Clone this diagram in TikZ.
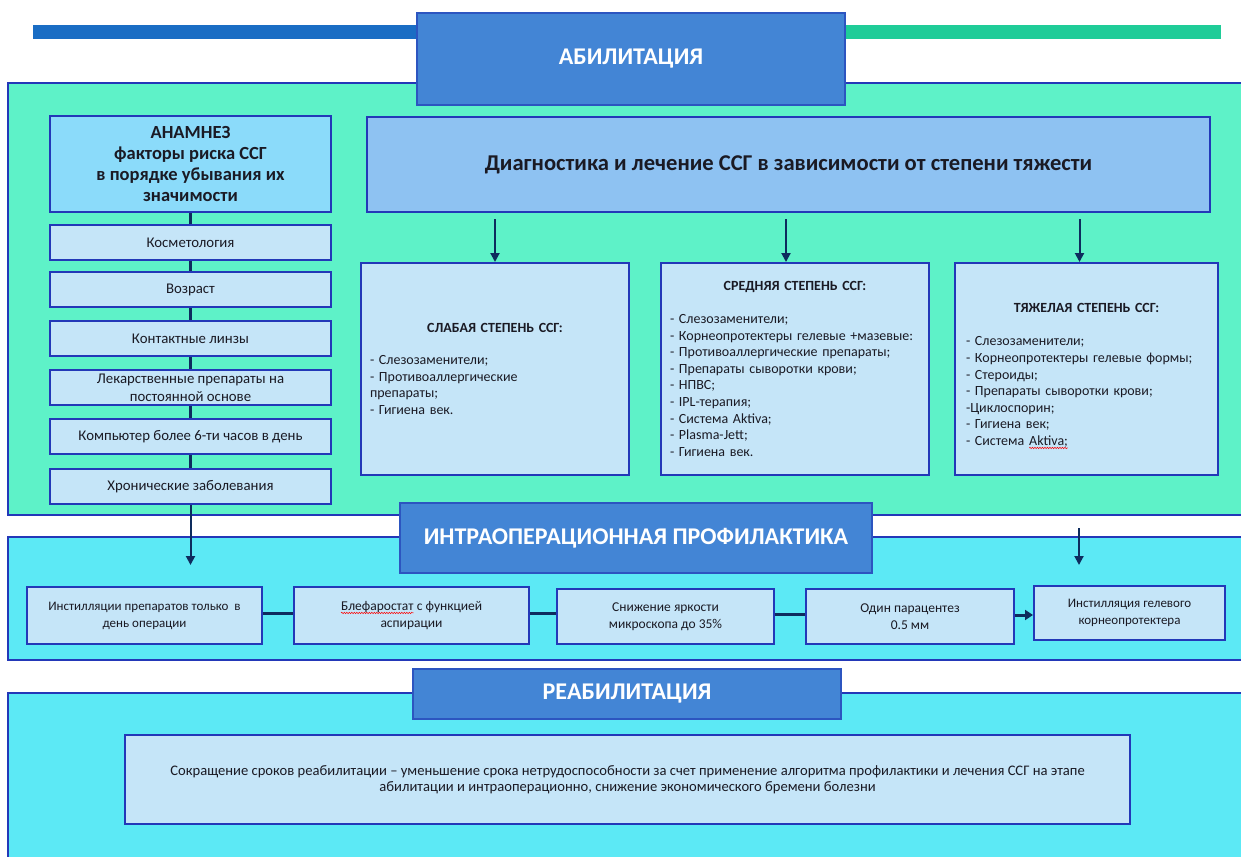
\documentclass[tikz,border=0pt]{standalone}
\usepackage{fontspec}
\setmainfont{Carlito}
\usetikzlibrary{arrows.meta,decorations.pathmorphing}
\definecolor{mint}{HTML}{5EF2C8}
\definecolor{cyanreg}{HTML}{5CE9F5}
\definecolor{hdr}{HTML}{4385D5}
\definecolor{hdrb}{HTML}{2C55C0}
\definecolor{diagc}{HTML}{8EC2F2}
\definecolor{anam}{HTML}{8BDBFA}
\definecolor{lightb}{HTML}{C5E5F8}
\definecolor{bord}{HTML}{2338B8}
\definecolor{navy}{HTML}{0E2C5E}
\definecolor{barblue}{HTML}{1A6DC4}
\definecolor{bargreen}{HTML}{1FCC98}
\definecolor{txt}{HTML}{1A1A24}
\newcommand{\spellmark}[1]{\tikz[baseline=(sw.base)]{\node[inner sep=0pt,outer sep=0pt,draw=none,fill=none,minimum width=0pt,minimum height=0pt,text=txt] (sw) {#1};
  \draw[red, line width=0.5pt, decorate, decoration={snake,amplitude=0.7pt,segment length=2.5pt}] ([yshift=-2.5pt]sw.base west) -- ([yshift=-2.5pt]sw.base east);}}
\begin{document}
\begin{tikzpicture}[x=1pt,y=-1pt,
  region/.style={draw=bord, line width=1.5pt, inner sep=0pt},
  bar/.style={inner sep=0pt, draw=none},
  hdrbox/.style={draw=hdrb, line width=1.5pt, fill=hdr, inner sep=0pt, text=white, align=center, font=\bfseries\fontsize{24}{28}\selectfont},
  lbox/.style={draw=bord, line width=2pt, fill=lightb, inner sep=0pt, align=center, text=txt, font=\fontsize{14.8}{18}\selectfont},
  sevbox/.style={draw=bord, line width=2pt, fill=lightb, inner sep=0pt},
  sevtext/.style={text width=250pt, align=left, inner sep=0pt, text=txt, font=\fontsize{14}{16.6}\selectfont},
  ibox/.style={draw=bord, line width=2pt, fill=lightb, inner sep=0pt, align=center, text=txt, font=\fontsize{13.5}{17}\selectfont},
  link/.style={draw=navy, line width=3pt},
  arr/.style={draw=navy, line width=2pt, -{Triangle[width=9pt,length=9pt]}}
]
\useasboundingbox (0,0) rectangle (1241,856);
\fill[white] (0,0) rectangle (1241,856);

% top bars
\node[bar, fill=barblue, minimum width=387pt, minimum height=14pt] (bblue) at (226.5,32) {};
\node[bar, fill=bargreen, minimum width=377pt, minimum height=14pt] (bgreen) at (1032.5,32) {};

% regions
\node[region, fill=mint, minimum width=1242pt, minimum height=432pt] (abreg) at (629,299) {};
\node[region, fill=cyanreg, minimum width=1242pt, minimum height=123pt] (intrareg) at (629,598.5) {};
\node[region, fill=cyanreg, minimum width=1242pt, minimum height=177pt] (reabreg) at (629,781.5) {};

% abilitation header
\node[hdrbox, minimum width=428pt, minimum height=92pt] (abhdr) at (631,59) {АБИЛИТАЦИЯ};

% left column connector (behind boxes)
\draw[link] (190.5,212) -- (190.5,469);

% anamnesis
\node[draw=bord, line width=2pt, fill=anam, inner sep=0pt, minimum width=281pt, minimum height=96pt, align=center, text=txt, font=\bfseries\fontsize{18.5}{21.3}\selectfont] (anam) at (190.5,164)
  {АНАМНЕЗ\\факторы риска ССГ\\в порядке убывания их\\значимости};

\node[lbox, minimum width=281pt, minimum height=35pt] (k1) at (190.5,242.5) {Косметология};
\node[lbox, minimum width=281pt, minimum height=35pt] (k2) at (190.5,289.5) {Возраст};
\node[lbox, minimum width=281pt, minimum height=35pt] (k3) at (190.5,338.5) {Контактные линзы};
\node[lbox, minimum width=281pt, minimum height=35pt] (k4) at (190.5,387.5) {Лекарственные препараты на\\постоянной основе};
\node[lbox, minimum width=281pt, minimum height=35pt] (k5) at (190.5,436.5) {Компьютер более 6-ти часов в день};
\node[lbox, minimum width=281pt, minimum height=35pt] (k6) at (190.5,486.5) {Хронические заболевания};

% diagnosis header
\node[draw=bord, line width=2pt, fill=diagc, inner sep=0pt, minimum width=843pt, minimum height=95pt, text=txt, font=\bfseries\fontsize{22.6}{26}\selectfont] (diag) at (788.5,164.5)
  {Диагностика и лечение ССГ в зависимости от степени тяжести};

% severity boxes
\node[sevbox, minimum width=268pt, minimum height=212pt] (slab) at (495,369) {};
\node[sevbox, minimum width=268pt, minimum height=212pt] (sred) at (795,369) {};
\node[sevbox, minimum width=263pt, minimum height=212pt] (tyazh) at (1086.5,369) {};

\node[sevtext] (slabT) at (slab.center)
 {\makebox[\linewidth]{\bfseries СЛАБАЯ СТЕПЕНЬ ССГ:}\\[15pt]
  - Слезозаменители;\\- Противоаллергические\\препараты;\\- Гигиена век.};
\node[sevtext] (sredT) at (sred.center)
 {\makebox[\linewidth]{\bfseries СРЕДНЯЯ СТЕПЕНЬ ССГ:}\\[16pt]
  - Слезозаменители;\\- Корнеопротектеры гелевые +мазевые:\\- Противоаллергические препараты;\\- Препараты сыворотки крови;\\- НПВС;\\- IPL-терапия;\\- Система Aktiva;\\- Plasma-Jett;\\- Гигиена век.};
\node[sevtext, text width=241pt] (tyazhT) at ([yshift=-7pt]tyazh.center)
 {\makebox[\linewidth]{\bfseries ТЯЖЕЛАЯ СТЕПЕНЬ ССГ:}\\[17pt]
  - Слезозаменители;\\- Корнеопротектеры гелевые формы;\\- Стероиды;\\- Препараты сыворотки крови;\\-Циклоспорин;\\- Гигиена век;\\- Система \spellmark{Aktiva;}};

\draw[arr] ([yshift=-6pt]diag.south -| slab.north) -- (slab.north);
\draw[arr] ([xshift=-9pt,yshift=-6pt]diag.south -| sred.north) -- ([xshift=-9pt]sred.north);
\draw[arr] ([xshift=-7pt,yshift=-6pt]diag.south -| tyazh.north) -- ([xshift=-7pt]tyazh.north);

% intraoperative
\node[hdrbox, minimum width=472pt, minimum height=70pt] (intrahdr) at (636,538) {ИНТРАОПЕРАЦИОННАЯ ПРОФИЛАКТИКА};

\node[ibox, minimum width=235pt, minimum height=57pt, font=\fontsize{13}{17}\selectfont] (i1) at (144.5,615.5) {Инстилляции препаратов только \ в\\день операции};
\node[ibox, minimum width=235pt, minimum height=57pt] (i2) at (411.5,615.5) {\spellmark{Блефаростат} с функцией\\аспирации};
\node[ibox, minimum width=217pt, minimum height=55pt] (i3) at (665.5,616.5) {Снижение яркости\\микроскопа до 35\%};
\node[ibox, minimum width=208pt, minimum height=55pt] (i4) at (910,616.5) {Один парацентез\\0.5 мм};
\node[ibox, minimum width=191pt, minimum height=54pt, font=\fontsize{13}{17}\selectfont] (i5) at (1129.5,613) {Инстилляция гелевого\\корнеопротектера};

\draw[link] ([yshift=2pt]i1.east) -- ([yshift=2pt]i1.east -| i2.west);
\draw[link] ([yshift=2pt]i2.east) -- ([yshift=2pt]i2.east -| i3.west);
\draw[link] ([yshift=2pt]i3.east) -- ([yshift=2pt]i3.east -| i4.west);
\draw[arr, line width=3pt, -{Triangle[width=10pt,length=8pt]}] ([yshift=1.5pt]i4.east) -- ([yshift=1.5pt]i4.east -| i5.west);

\coordinate (lefttip) at (190.5,565);
\draw[arr] (k6.south) -- (lefttip);
\coordinate (rightstart) at (1079,528);
\coordinate (righttip) at (1079,565);
\draw[arr] (rightstart) -- (righttip);

% rehabilitation
\node[hdrbox, minimum width=428pt, minimum height=50pt] (reabhdr) at (627,694) {РЕАБИЛИТАЦИЯ};
\node[ibox, minimum width=1005pt, minimum height=89pt, font=\fontsize{14.6}{16.5}\selectfont] (reabtxt) at (627.5,779.5)
  {Сокращение сроков реабилитации – уменьшение срока нетрудоспособности за счет применение алгоритма профилактики и лечения ССГ на этапе\\абилитации и интраоперационно, снижение экономического бремени болезни};
\end{tikzpicture}
\end{document}
